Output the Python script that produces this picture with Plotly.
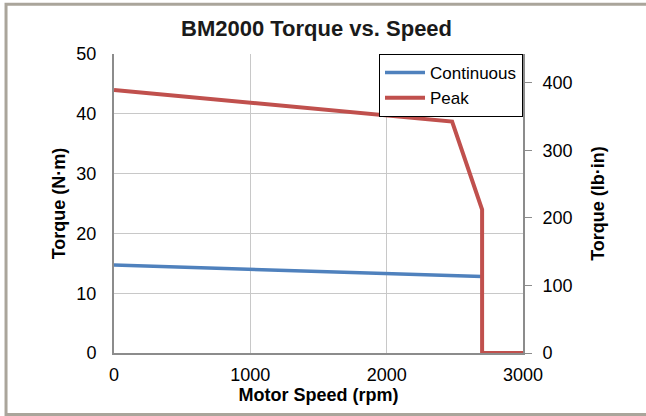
import plotly.graph_objects as go

cont_speed = [0, 2700]
cont_torque = [14.7, 12.8]
peak_speed = [0, 2480, 2700, 2700, 3000]
peak_torque = [44.0, 38.7, 24.0, 0, 0]
NM_TO_LBIN = 8.8507
x_ticks = [0, 1000, 2000, 3000]
y_ticks = [0, 10, 20, 30, 40, 50]
y2_ticks = [0, 100, 200, 300, 400]

FONT = "Liberation Sans, Arial, sans-serif"

fig = go.Figure()
fig.add_trace(go.Scatter(x=cont_speed, y=cont_torque, mode="lines", name="Continuous",
                         line=dict(color="#4f81bd", width=3.5)))
fig.add_trace(go.Scatter(x=peak_speed, y=peak_torque, mode="lines", name="Peak",
                         line=dict(color="#c0504d", width=4)))
fig.add_trace(go.Scatter(x=[None], y=[None], yaxis="y2", showlegend=False, hoverinfo="skip"))

fig.update_layout(
    width=646, height=416,
    margin=dict(l=114, r=123, t=54, b=63),
    paper_bgcolor="white", plot_bgcolor="white",
    font=dict(family=FONT, size=18, color="black"),
    title=dict(text="<b>BM2000 Torque vs. Speed</b>", x=0.49, xanchor="center",
               xref="container", y=0.933, yanchor="middle", yref="container",
               font=dict(size=22, color="#1a1a1a")),
    xaxis=dict(range=[0, 3000], tickvals=x_ticks, showgrid=True, gridcolor="#c8c8c8",
               gridwidth=1, zeroline=False, showline=True, linecolor="#8c8c8c", linewidth=2,
               ticks="", ticklabelstandoff=4,
               title=dict(text="<b>Motor Speed (rpm)</b>", font=dict(size=18), standoff=3)),
    yaxis=dict(range=[0, 50], tickvals=y_ticks, showgrid=True, gridcolor="#c8c8c8",
               gridwidth=1, zeroline=False, showline=True, linecolor="#8c8c8c", linewidth=2,
               ticks="", ticklabelstandoff=12,
               title=dict(text="<b>Torque (N·m)</b>", font=dict(size=18), standoff=6)),
    yaxis2=dict(range=[0, 50 * NM_TO_LBIN], tickvals=y2_ticks, overlaying="y", side="right",
                showgrid=False, zeroline=False, showline=True, linecolor="#8c8c8c", linewidth=2,
                ticks="outside", ticklen=7, tickcolor="#8c8c8c", ticklabelstandoff=7,
                title=dict(text="<b>Torque (lb·in)</b>", font=dict(size=18), standoff=20)),
    legend=dict(x=1, y=1, xanchor="right", yanchor="top", bordercolor="black", borderwidth=1,
                bgcolor="white", font=dict(size=17), tracegroupgap=0, itemwidth=40),
    showlegend=True,
    shapes=[
        dict(type="rect", xref="paper", yref="paper", x0=-0.264, x1=1.5, y0=-0.206, y1=1.166,
             line=dict(color="#aaa59b", width=3), layer="below"),
    ],
)

fig.write_html("out.html", config={"displayModeBar": False},
               post_script="document.body.style.margin='0';document.body.style.padding='0';")
